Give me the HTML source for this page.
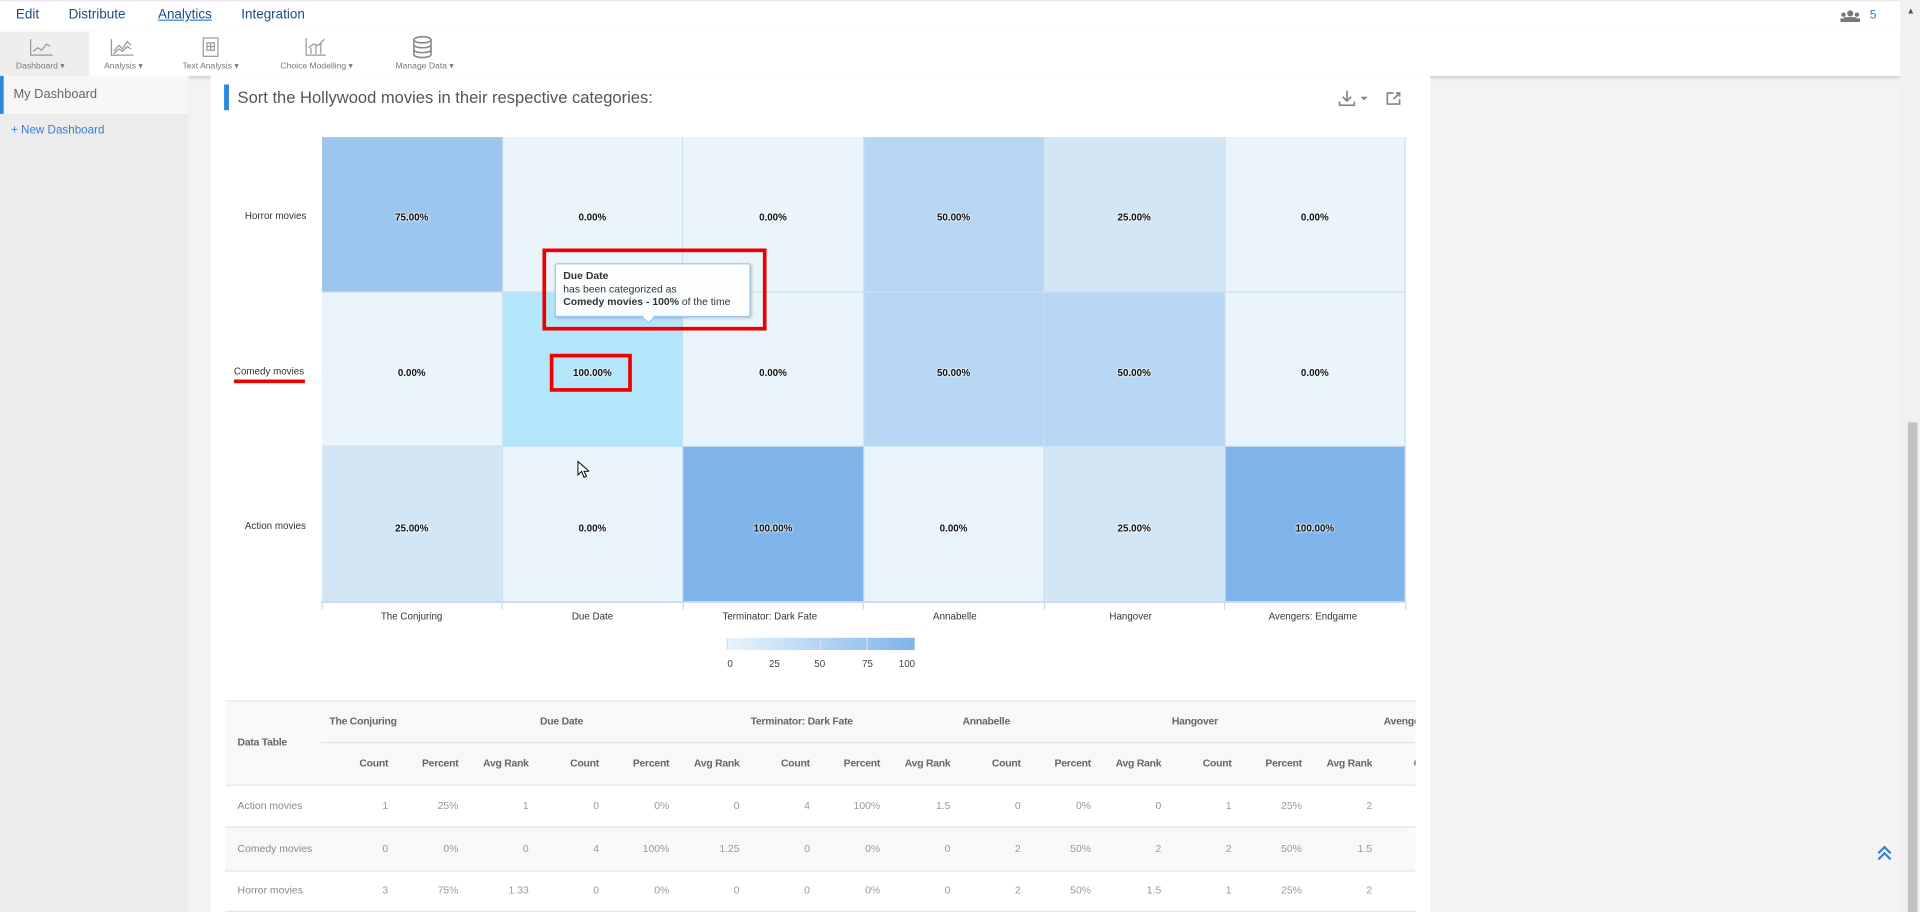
<!DOCTYPE html>
<html><head><meta charset="utf-8"><style>
html,body{margin:0;padding:0;width:1920px;height:912px;overflow:hidden;background:#f3f3f3;font-family:"Liberation Sans",sans-serif}
#w{position:absolute;left:0;top:0;width:1568px;height:745px;transform:scale(1.22449,1.2242);transform-origin:0 0;background:#f3f3f3;overflow:hidden}
.a{position:absolute;white-space:nowrap}
.cell{position:absolute;width:147.5px;height:126.67px;box-sizing:border-box;padding-top:6px;border-right:1px solid #c9dff1;border-bottom:1px solid #c9dff1;display:flex;align-items:center;justify-content:center;font-size:8px;font-weight:bold;color:#111;text-shadow:0 0 2px #fff,0 0 2px #fff}
.tl{position:absolute;font-size:8px;color:#333}
.th{position:absolute;font-size:8.5px;color:#666;font-weight:bold;letter-spacing:-0.2px}
.sh{position:absolute;font-size:8.5px;color:#666;font-weight:bold;text-align:right;width:50px;letter-spacing:-0.2px}
.v{position:absolute;font-size:8.5px;color:#999;text-align:right;width:50px}
</style></head><body><div id="w">
<div class="a" style="left:0;top:0;width:1552px;height:25px;background:#fff;border-bottom:1px solid #ddd;border-top:1px solid #ece6f0"></div>
<div class="a" style="left:13px;top:6px;font-size:11px;color:#1e4a86">Edit</div>
<div class="a" style="left:56px;top:6px;font-size:11px;color:#1e4a86">Distribute</div>
<div class="a" style="left:129px;top:6px;font-size:11px;color:#1e4a86;text-decoration:underline;text-decoration-color:#2a8ad8">Analytics</div>
<div class="a" style="left:197px;top:6px;font-size:11px;color:#1e4a86">Integration</div>
<svg class="a" style="left:1503px;top:8px" width="16" height="10"><circle cx="8" cy="3" r="2.5" fill="#777"/><rect x="3" y="6" width="10" height="4" fill="#777"/><circle cx="2.5" cy="4" r="1.8" fill="#777"/><circle cx="13.5" cy="4" r="1.8" fill="#777"/><rect x="0" y="7" width="4" height="3" fill="#777"/><rect x="12" y="7" width="4" height="3" fill="#777"/></svg>
<div class="a" style="left:1527px;top:7px;font-size:10px;color:#3a7bd5">5</div>
<div class="a" style="left:0;top:26px;width:1552px;height:36px;background:#fff;box-shadow:0 2px 3px rgba(0,0,0,.15)"></div>
<div class="a" style="left:0;top:26px;width:73px;height:36px;background:#eee"></div>
<svg class="a" style="left:24px;top:31px" width="20" height="15" fill="none" stroke="#999"><path d="M1 1V14H19M3 11l4-3 3 2 4-5 3 2"/></svg>
<svg class="a" style="left:90px;top:31px" width="20" height="15" fill="none" stroke="#999"><path d="M1 1V14H19M3 11l4-5 3 3 4-6 3 3M3 13l4-4 3 2 4-4 3 2"/></svg>
<svg class="a" style="left:164px;top:30px" width="16" height="17" fill="none" stroke="#999"><rect x="2" y="1" width="12" height="15"/><rect x="5" y="5" width="6" height="6"/><path d="M8 5v6M5 8h6"/></svg>
<svg class="a" style="left:249px;top:30px" width="18" height="16" fill="none" stroke="#999"><path d="M1 1V15H17M5 14V9M9 14V7M13 14V5M3 9l4-3 4 1 5-5"/></svg>
<svg class="a" style="left:337px;top:29px" width="16" height="19" fill="none" stroke="#888" stroke-width="1.3"><ellipse cx="8" cy="3.5" rx="7" ry="2.5"/><path d="M1 3.5v12c0 1.4 3 2.5 7 2.5s7-1.1 7-2.5v-12M1 7.5c0 1.4 3 2.5 7 2.5s7-1.1 7-2.5M1 11.5c0 1.4 3 2.5 7 2.5s7-1.1 7-2.5"/></svg>
<div class="a" style="left:13px;top:50px;font-size:7px;color:#777">Dashboard ▾</div>
<div class="a" style="left:85px;top:50px;font-size:7px;color:#777">Analysis ▾</div>
<div class="a" style="left:149px;top:50px;font-size:7px;color:#777">Text Analysis ▾</div>
<div class="a" style="left:229px;top:50px;font-size:7px;color:#777">Choice Modelling ▾</div>
<div class="a" style="left:323px;top:50px;font-size:7px;color:#777">Manage Data ▾</div>
<div class="a" style="left:0;top:62px;width:154px;height:683px;background:#ececec"></div>
<div class="a" style="left:0;top:62px;width:154px;height:31px;background:#f7f7f7;border-left:3px solid #2a8ad8;box-sizing:border-box"></div>
<div class="a" style="left:11px;top:71px;font-size:10.5px;color:#666">My Dashboard</div>
<div class="a" style="left:9px;top:101px;font-size:9.5px;color:#3a7bd5">+ New Dashboard</div>
<div class="a" style="left:1552px;top:0;width:16px;height:745px;background:#f1f1f1"></div>
<div class="a" style="left:1558px;top:345px;width:8px;height:400px;background:#c1c1c1"></div>
<div class="a" style="left:1557px;top:6px;font-size:7px;color:#555">▲</div>
<div class="a" style="left:172px;top:62px;width:996px;height:683px;background:#fff"></div>
<div class="a" style="left:183px;top:69px;width:4px;height:21px;background:#2a8ad8"></div>
<div class="a" style="left:194px;top:72px;font-size:13.5px;color:#555">Sort the Hollywood movies in their respective categories:</div>
<svg class="a" style="left:1093px;top:73px" width="28" height="14" fill="none" stroke="#888" stroke-width="1.4"><path d="M7 1v8M3.5 6L7 9.5 10.5 6M1 10v3h12v-3"/><path d="M18 6h6l-3 3z" fill="#888" stroke="none"/></svg>
<svg class="a" style="left:1132px;top:74px" width="13" height="12" fill="none" stroke="#888" stroke-width="1.4"><path d="M6 2H1v9h10V7M6 7l5-5M8 2h3v3"/></svg>
<div class="a" style="left:263px;top:112px;width:885px;height:380px;border-top:1px solid #c9dff1;border-left:1px solid #c9dff1;box-sizing:border-box"></div>
<div class="cell" style="left:263px;top:112px;background:#9dc6ef">75.00%</div>
<div class="cell" style="left:410.5px;top:112px;background:#eaf5fb">0.00%</div>
<div class="cell" style="left:558px;top:112px;background:#eaf5fb">0.00%</div>
<div class="cell" style="left:705.5px;top:112px;background:#b6d6f3">50.00%</div>
<div class="cell" style="left:853px;top:112px;background:#d3e6f6">25.00%</div>
<div class="cell" style="left:1000.5px;top:112px;background:#eaf5fb">0.00%</div>
<div class="cell" style="left:263px;top:238.67px;background:#eaf5fb">0.00%</div>
<div class="cell" style="left:410.5px;top:238.67px;background:#b3e5fb">100.00%</div>
<div class="cell" style="left:558px;top:238.67px;background:#eaf5fb">0.00%</div>
<div class="cell" style="left:705.5px;top:238.67px;background:#b6d6f3">50.00%</div>
<div class="cell" style="left:853px;top:238.67px;background:#b6d6f3">50.00%</div>
<div class="cell" style="left:1000.5px;top:238.67px;background:#eaf5fb">0.00%</div>
<div class="cell" style="left:263px;top:365.33px;background:#d3e6f6">25.00%</div>
<div class="cell" style="left:410.5px;top:365.33px;background:#eaf5fb">0.00%</div>
<div class="cell" style="left:558px;top:365.33px;background:#7fb4ea">100.00%</div>
<div class="cell" style="left:705.5px;top:365.33px;background:#eaf5fb">0.00%</div>
<div class="cell" style="left:853px;top:365.33px;background:#d3e6f6">25.00%</div>
<div class="cell" style="left:1000.5px;top:365.33px;background:#7fb4ea">100.00%</div>
<div class="tl" style="left:200px;top:172px">Horror movies</div>
<div class="tl" style="left:191px;top:299px">Comedy movies</div>
<div class="tl" style="left:200px;top:425px">Action movies</div>
<div class="a" style="left:191px;top:310px;width:58px;height:3px;background:#e00"></div>
<svg class="a" style="left:262px;top:491px" width="888" height="8"><path d="M0 1H887M1 1v6M148 1v6M296 1v6M443 1v6M591 1v6M738 1v6M886 1v6" stroke="#ccd6eb" fill="none"/></svg>
<div class="tl" style="left:311px;top:499px">The Conjuring</div>
<div class="tl" style="left:467px;top:499px">Due Date</div>
<div class="tl" style="left:590px;top:499px">Terminator: Dark Fate</div>
<div class="tl" style="left:762px;top:499px">Annabelle</div>
<div class="tl" style="left:906px;top:499px">Hangover</div>
<div class="tl" style="left:1036px;top:499px">Avengers: Endgame</div>
<div class="a" style="left:593px;top:521px;width:154px;height:10px;background:linear-gradient(to right,#eaf5fb,#7fb4ea)"></div>
<svg class="a" style="left:593px;top:521px" width="154" height="10"><path d="M1 0v10M39 0v10M77 0v10M115 0v10" stroke="#dde" /></svg>
<div class="tl" style="left:594px;top:538px;color:#444">0</div>
<div class="tl" style="left:628px;top:538px;color:#444">25</div>
<div class="tl" style="left:665px;top:538px;color:#444">50</div>
<div class="tl" style="left:704px;top:538px;color:#444">75</div>
<div class="tl" style="left:734px;top:538px;color:#444">100</div>
<div class="a" style="left:453px;top:215px;width:160px;height:44px;background:rgba(255,255,255,.9);border:1px solid #9cc5ef;border-radius:2px;box-shadow:1px 1px 2px rgba(0,0,0,.2);box-sizing:border-box"></div>
<div class="a" style="left:526px;top:256px;width:6px;height:6px;background:#fff;border-right:1px solid #9cc5ef;border-bottom:1px solid #9cc5ef;transform:rotate(45deg)"></div>
<div class="a" style="left:460px;top:220px;font-size:8.5px;line-height:10.5px;color:#333"><b>Due Date</b><br>has been categorized as<br><b>Comedy movies - 100%</b> of the time</div>
<div class="a" style="left:443px;top:203px;width:183px;height:67px;border:3.3px solid #e00;box-sizing:border-box"></div>
<div class="a" style="left:449px;top:289px;width:67px;height:31px;border:3.3px solid #e00;box-sizing:border-box"></div>
<svg class="a" style="left:471px;top:376px" width="10" height="15"><path d="M1 1v11l3-3 2 5 2-1-2-4h4z" fill="#fff" stroke="#000" stroke-width=".8"/></svg>
<div class="a" style="left:184px;top:572px;width:972px;height:173px;overflow:hidden">
<div class="a" style="left:0;top:0;width:972px;height:68px;background:#f8f8f8;border-top:1px solid #e6e6e6;border-bottom:1px solid #e6e6e6"></div>
<div class="a" style="left:78px;top:34px;width:900px;height:1px;background:#e6e6e6"></div>
<div class="a" style="left:0;top:103px;width:972px;height:35px;background:#f8f8f8;border-top:1px solid #e6e6e6;border-bottom:1px solid #e6e6e6"></div>
<div class="a" style="left:0;top:172px;width:972px;height:1px;background:#e6e6e6"></div>
<div class="th" style="left:10px;top:29px">Data Table</div>
<div class="th" style="left:85px;top:12px">The Conjuring</div>
<div class="th" style="left:257px;top:12px">Due Date</div>
<div class="th" style="left:429px;top:12px">Terminator: Dark Fate</div>
<div class="th" style="left:602px;top:12px">Annabelle</div>
<div class="th" style="left:773px;top:12px">Hangover</div>
<div class="th" style="left:946px;top:12px">Avengers: Endgame</div>
<div id="sub"></div>
</div>
<svg class="a" style="left:1532px;top:690px" width="14" height="14" fill="none" stroke="#3a7bd5" stroke-width="1.8"><path d="M2 7l5-5 5 5M2 12l5-5 5 5"/></svg>
</div>
<script>
var s=document.getElementById('sub'),h='';
var hd=['Count','Percent','Avg Rank'];
var rows=[['Action movies',['1','25%','1','0','0%','0','4','100%','1.5','0','0%','0','1','25%','2','4','100%','1']],
['Comedy movies',['0','0%','0','4','100%','1.25','0','0%','0','2','50%','2','2','50%','1.5','0','0%','0']],
['Horror movies',['3','75%','1.33','0','0%','0','0','0%','0','2','50%','1.5','1','25%','2','0','0%','0']]];
for(var k=0;k<18;k++){var r=133+57.4*k-50;h+='<div class="sh" style="left:'+r+'px;top:46px">'+hd[k%3]+'</div>';}
for(var i=0;i<3;i++){var y=81+34.7*i;h+='<div class="a" style="left:10px;top:'+y+'px;font-size:8.5px;color:#888">'+rows[i][0]+'</div>';
for(var k=0;k<18;k++){var r=133+57.4*k-50;h+='<div class="v" style="left:'+r+'px;top:'+y+'px">'+rows[i][1][k]+'</div>';}}
s.outerHTML=h;
</script>
</body></html>
